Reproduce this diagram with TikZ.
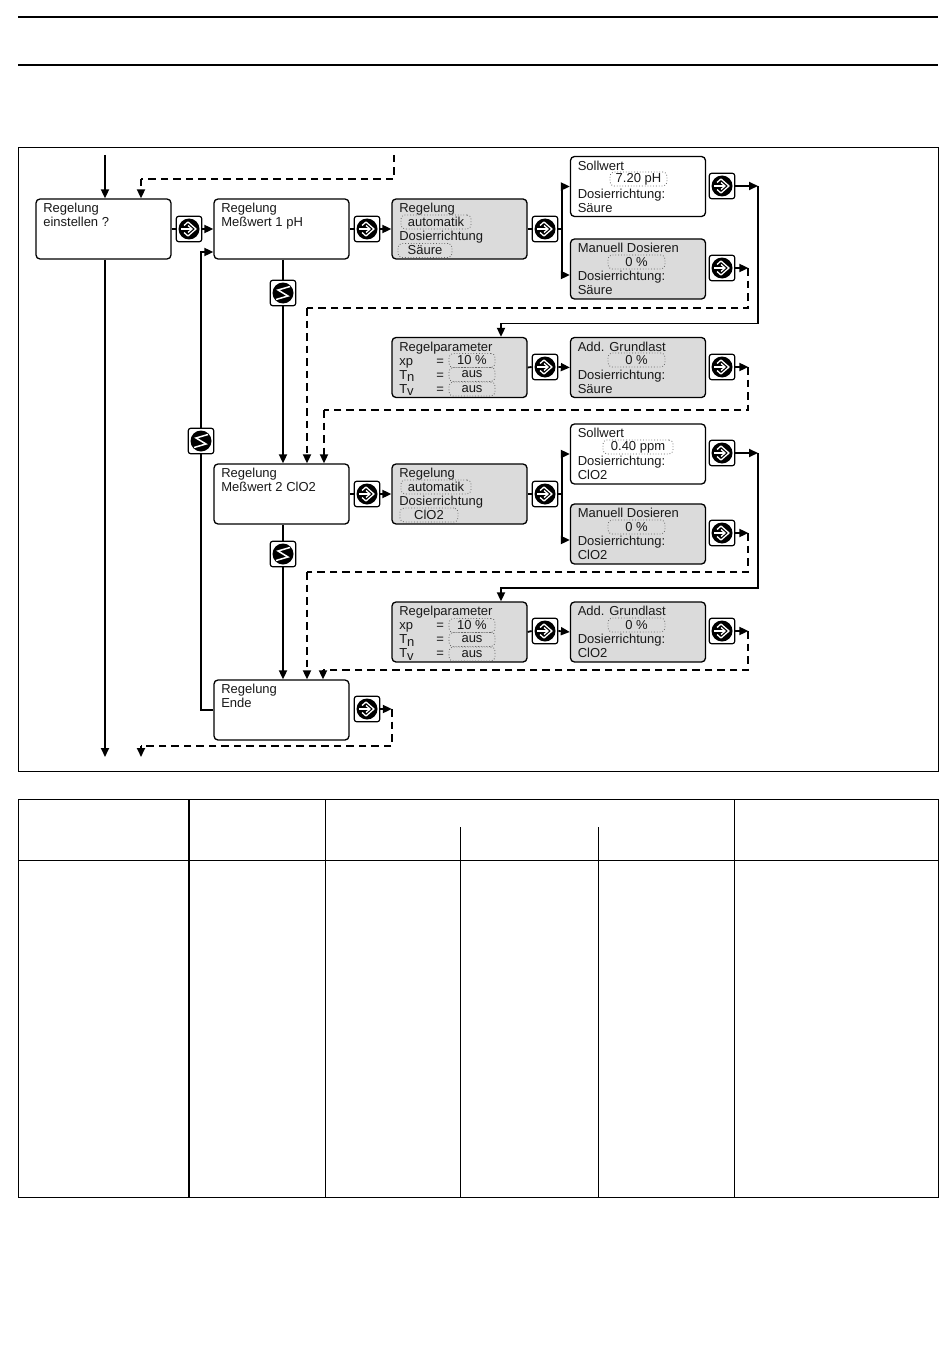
\documentclass[tikz,border=0pt]{standalone}
\usepackage{fontspec}
\setmainfont{Liberation Sans}
\usetikzlibrary{arrows.meta}
\tikzset{
    panel/.style={draw,line width=1.3pt,rounded corners=4pt,minimum width=135pt,minimum height=60pt,inner xsep=6.5pt,inner ysep=4pt,text=black!90},
    lit/.style={panel,fill=white},
    grey/.style={panel,fill=black!14},
    field/.style={draw=black!60,dotted,line width=0.8pt,rounded corners=4pt,inner sep=0pt,minimum height=14pt,text=black!90},
    btn/.style={draw,line width=1.2pt,fill=white,rounded corners=2.5pt,minimum width=25.5pt,minimum height=25.5pt,inner sep=0pt},
    wire/.style={line width=1.8pt},
    flow/.style={wire,-{Triangle[length=9pt,width=8pt]}},
    back/.style={wire,dash pattern=on 7.5pt off 5pt},
    backflow/.style={back,-{Triangle[length=9pt,width=8pt,sep=0pt]}},
    rule/.style={line width=0.9pt}
}
\newcommand{\paneltext}[1]{\parbox[c][51.5pt][t]{122pt}{\hspace*{0.8pt}\fontsize{13}{14.1}\selectfont #1}}
\newcommand{\lowered}[1]{T\raisebox{-2.5pt}{#1}}
\begin{document}
\begin{tikzpicture}[x=1pt,y=-1pt]

    \useasboundingbox (0,0) rectangle (950,1372);

    % Draw page rules and frame
    \draw[line width=1.3pt] (18,17) -- (938,17);
    \draw[line width=1.3pt] (18,65) -- (938,65);
    \draw[rule] (18,147) rectangle (938,771);

    % Draw table
    \draw[rule] (18,799) rectangle (938,1197);
    \draw[rule] (18,860) -- (938,860);
    \draw[line width=2pt] (189,799) -- (189,1197);
    \foreach \x in {325,734} {
        \draw[rule] (\x,799) -- (\x,1197);
    }
    \foreach \x in {460,598} {
        \draw[rule] (\x,827) -- (\x,1197);
    }

    % Draw panels
    \def \drawpanel#1#2#3#4#5{\node (#1) at (#2,#3) [#4] {\paneltext{#5}};}
    \drawpanel{einstellen}{103.5}{229}{lit}{Regelung\\\hspace*{0.8pt}einstellen ?}
    \drawpanel{ph}{281.5}{229}{lit}{Regelung\\\hspace*{0.8pt}Meßwert 1 pH}
    \drawpanel{modeA}{459.5}{229}{grey}{Regelung\\\mbox{}\\\hspace*{0.8pt}Dosierrichtung}
    \drawpanel{sollA}{638}{186.5}{lit}{Sollwert\\\mbox{}\\\hspace*{0.8pt}Dosierrichtung:\\\hspace*{0.8pt}Säure}
    \drawpanel{manA}{638}{269}{grey}{Manuell Dosieren\\\mbox{}\\\hspace*{0.8pt}Dosierrichtung:\\\hspace*{0.8pt}Säure}
    \drawpanel{paramA}{459.5}{367.5}{grey}{Regelparameter\\\hspace*{0.8pt}\makebox[37pt][l]{xp}=\\\hspace*{0.8pt}\makebox[37pt][l]{\lowered{n}}=\\\hspace*{0.8pt}\makebox[37pt][l]{\lowered{v}}=}
    \drawpanel{lastA}{638}{367.5}{grey}{Add. Grundlast\\\mbox{}\\\hspace*{0.8pt}Dosierrichtung:\\\hspace*{0.8pt}Säure}
    \drawpanel{clo}{281.5}{494}{lit}{Regelung\\\hspace*{0.8pt}Meßwert 2 ClO2}
    \drawpanel{modeB}{459.5}{494}{grey}{Regelung\\\mbox{}\\\hspace*{0.8pt}Dosierrichtung}
    \drawpanel{sollB}{638}{454}{lit}{Sollwert\\\mbox{}\\\hspace*{0.8pt}Dosierrichtung:\\\hspace*{0.8pt}ClO2}
    \drawpanel{manB}{638}{534}{grey}{Manuell Dosieren\\\mbox{}\\\hspace*{0.8pt}Dosierrichtung:\\\hspace*{0.8pt}ClO2}
    \drawpanel{paramB}{459.5}{632}{grey}{Regelparameter\\\hspace*{0.8pt}\makebox[37pt][l]{xp}=\\\hspace*{0.8pt}\makebox[37pt][l]{\lowered{n}}=\\\hspace*{0.8pt}\makebox[37pt][l]{\lowered{v}}=}
    \drawpanel{lastB}{638}{632}{grey}{Add. Grundlast\\\mbox{}\\\hspace*{0.8pt}Dosierrichtung:\\\hspace*{0.8pt}ClO2}
    \drawpanel{ende}{281.5}{710}{lit}{Regelung\\\hspace*{0.8pt}Ende}

    % Draw value fields
    \def \drawfield#1#2#3#4#5{\node (#1) at (#2,#3) [field,minimum width=#4pt] {\fontsize{13}{14}\selectfont #5};}
    \drawfield{fModeA}{436}{222}{70}{automatik}
    \drawfield{fDirA}{425}{250.5}{54}{Säure}
    \drawfield{fSollA}{638.5}{179}{57}{7.20 pH}
    \drawfield{fManA}{636.5}{262}{57}{0 \%}
    \drawfield{fXpA}{472}{360.5}{46}{10 \%}
    \drawfield{fTnA}{472}{374.5}{46}{aus}
    \drawfield{fTvA}{472}{389}{46}{aus}
    \drawfield{fLastA}{636.5}{360}{57}{0 \%}
    \drawfield{fModeB}{436}{487}{70}{automatik}
    \drawfield{fDirB}{429}{515}{58}{ClO2\hspace{15pt}}
    \drawfield{fSollB}{638}{447}{70}{0.40 ppm}
    \drawfield{fManB}{636.5}{527}{57}{0 \%}
    \drawfield{fXpB}{472}{625.5}{46}{10 \%}
    \drawfield{fTnB}{472}{639.5}{46}{aus}
    \drawfield{fTvB}{472}{654}{46}{aus}
    \drawfield{fLastB}{636.5}{625}{57}{0 \%}

    % Draw free ends
    \coordinate (inA) at (105,155);
    \coordinate (inB) at (394,155);
    \coordinate (outA) at (105,757);
    \coordinate (outB) at (141,757);

    % Draw buttons
    \def \drawgo#1#2#3{
        \node (#1) at (#2,#3) [btn] {};
        \fill (#1.center) circle (10.5);
        \draw[white,line width=1.3pt,line join=round] (#2-5,#3-3.5) -- (#2-1,#3-7) -- (#2+7,#3) -- (#2-1,#3+7) -- (#2-5,#3+3.5);
        \draw[white,line width=1.3pt] (#2-8,#3) -- (#2+3,#3);
        \draw[white,line width=1.3pt] (#2-1,#3-3.5) -- (#2+3,#3) -- (#2-1,#3+3.5);
    }
    \def \drawskip#1#2#3{
        \node (#1) at (#2,#3) [btn] {};
        \fill (#1.center) circle (10.5);
        \draw[white,line width=1.5pt,line join=miter] (#2+7,#3-6.5) -- (#2-5,#3-3) -- (#2+5,#3+3) -- (#2-7,#3+6.5);
    }
    \drawgo{goA}{189}{229}
    \drawgo{goB}{367}{229}
    \drawgo{goC}{545}{229}
    \drawgo{goD}{722}{186}
    \drawgo{goE}{722}{268}
    \drawgo{goF}{545}{367}
    \drawgo{goG}{722}{367}
    \drawgo{goH}{367}{494}
    \drawgo{goI}{545}{494}
    \drawgo{goJ}{722}{453}
    \drawgo{goK}{722}{533}
    \drawgo{goL}{545}{631}
    \drawgo{goM}{722}{631}
    \drawgo{goN}{367}{709}
    \drawskip{skipA}{283}{293}
    \drawskip{skipB}{201}{441}
    \drawskip{skipC}{283}{554}

    % Draw solid connectors
    \draw[flow] (inA) -- (einstellen.north -| inA);
    \draw[flow] (einstellen.south -| inA) -- (outA);
    \def \drawstep#1#2#3{\draw[wire] (#1.east) -- (#2.west); \draw[flow] (#2.east) -- (#3.west);}
    \drawstep{einstellen}{goA}{ph}
    \drawstep{ph}{goB}{modeA}
    \drawstep{paramA}{goF}{lastA}
    \drawstep{clo}{goH}{modeB}
    \drawstep{paramB}{goL}{lastB}
    \draw[wire] (modeA.east) -- (goC.west);
    \draw[wire] (modeB.east) -- (goI.west);
    \def \drawfork#1#2#3{
        \draw[flow] (#1.east) -- ++(3.5,0) |- (#2.west);
        \draw[flow] (#1.east) -- ++(3.5,0) |- ([yshift=-6pt]#3.west);
    }
    \drawfork{goC}{sollA}{manA}
    \drawfork{goI}{sollB}{manB}
    \draw[wire] (ph.south -| skipA) -- (skipA.north);
    \draw[flow] (skipA.south) -- (clo.north -| skipA);
    \draw[wire] (clo.south -| skipC) -- (skipC.north);
    \draw[flow] (skipC.south) -- (ende.north -| skipC);
    \draw[wire] (ende.west) -| (skipB.south);
    \draw[flow] (skipB.north) |- ([yshift=-23pt]ph.west);

    % Draw return lines
    \def \drawloop#1#2#3#4{
        \draw[flow] (#1.east) -- ++(13,0) coordinate (#1-r);
        \draw[back] (#1-r) |- (#3,#4);
        \draw[backflow] (#3,#4) -- (#2.north -| #3,#4);
    }
    \draw[back] (inB) |- (141,179) coordinate (inC);
    \draw[backflow] (inC) -- (einstellen.north -| inC);
    \draw[flow] (goD.east) -- (758,186);
    \draw[flow] (goJ.east) -- (758,453);
    \draw[flow] (758,186) |- (501,323.5) -- (paramA.north -| 501,323.5);
    \draw[flow] (758,453) |- (501,588) -- (paramB.north -| 501,588);
    \drawloop{goE}{clo}{307}{308}
    \drawloop{goG}{clo}{324}{410}
    \drawloop{goK}{ende}{307}{572}
    \drawloop{goM}{ende}{323}{670}
    \draw[flow] (goN.east) -- ++(11.5,0) coordinate (goN-r);
    \draw[back] (goN-r) |- (141,746) coordinate (retB);
    \draw[backflow] (retB) -- (outB);

\end{tikzpicture}
\end{document}
